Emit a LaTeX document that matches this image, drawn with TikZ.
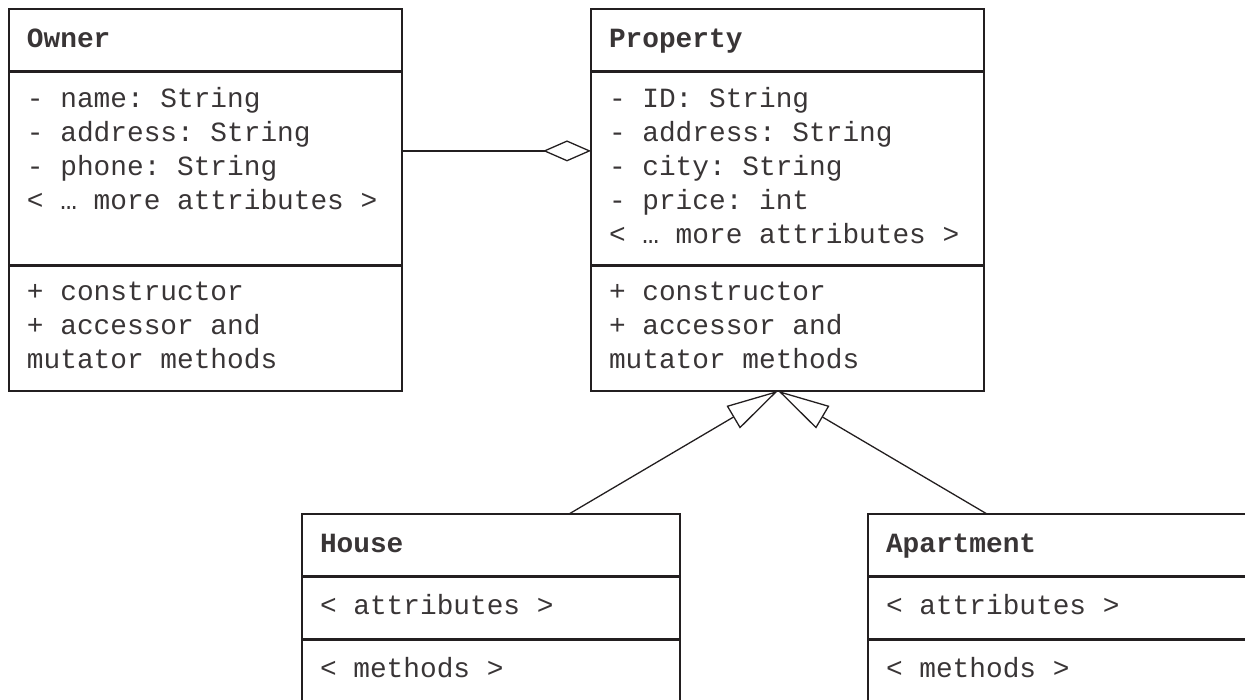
\documentclass[tikz,border=0pt]{standalone}
\usepackage{fontspec}
\setmonofont{Liberation Mono}
\usetikzlibrary{shapes.multipart,arrows.meta,positioning}
\definecolor{ink}{RGB}{35,31,32}
\newcommand{\hstrut}{\rule[-12.5pt]{0pt}{39pt}}
\DeclareRobustCommand{\umlfont}{\ttfamily\fontsize{27.8pt}{34pt}\selectfont
    \setlength{\spaceskip}{16.68pt}\setlength{\xspaceskip}{16.68pt}}

\begin{document}
\begin{tikzpicture}[-,auto,
    class node/.style={rectangle split,rectangle split parts=3,draw=ink,line width=2.6pt,text=ink!90,
        text width=#1,align=flush left,inner xsep=18pt,inner ysep=10.5pt,outer sep=0pt,anchor=north west,
        font=\umlfont},
    class node/.default=357pt,
    link/.style={draw=ink,line width=1.3pt}]

            \clip (0,0) rectangle (1245pt,-699pt);

            \node[class node] (owner) at (9pt,-9pt)
                {\hstrut\textbf{Owner}
                 \nodepart{two}\strut- name: String\\- address: String\\- phone: String\\< … more attributes >\\\strut
                 \nodepart{three}\strut+ constructor\\+ accessor and\\mutator methods\strut};
            \node[class node, right=189pt of owner] (property)
                {\hstrut\textbf{Property}
                 \nodepart{two}\strut- ID: String\\- address: String\\- city: String\\- price: int\\< … more attributes >\strut
                 \nodepart{three}\strut+ constructor\\+ accessor and\\mutator methods\strut};
            \node[class node=342pt] (house) at (302pt,-514pt)
                {\hstrut\textbf{House}
                 \nodepart{two}\hstrut< attributes >
                 \nodepart{three}\hstrut< methods >};
            \node[class node=344pt, right=188pt of house] (apartment)
                {\hstrut\textbf{Apartment}
                 \nodepart{two}\hstrut< attributes >
                 \nodepart{three}\hstrut< methods >};

            \draw[link, -{Diamond[open,length=48pt,width=21pt]}] ([yshift=49pt]owner.east) to ([yshift=49pt]property.west);
            \draw[link, -{Triangle[open,length=52pt,width=26pt]}] ([xshift=78pt]house.north) to ([xshift=-9.5pt]property.south);
            \draw[link, -{Triangle[open,length=52pt,width=26pt]}] ([xshift=-71pt]apartment.north) to ([xshift=-9.5pt]property.south);

            ;
        \end{tikzpicture}
\end{document}
